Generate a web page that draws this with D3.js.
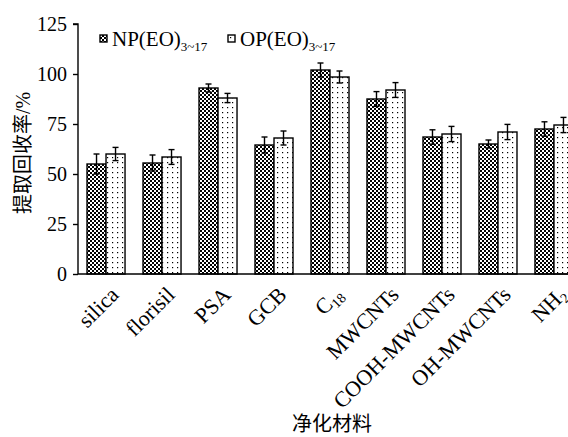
<!DOCTYPE html>
<html>
<head>
<meta charset="utf-8">
<script src="https://cdn.jsdelivr.net/npm/d3@7/dist/d3.min.js"></script>
<style>
  html, body { margin: 0; padding: 0; background: #fff; }
  svg { display: block; }
  text { font-family: "Liberation Serif", "Times New Roman", serif; fill: #000; }
  .cjk { font-family: "Noto Sans CJK SC", sans-serif; }
</style>
</head>
<body>
<svg id="chart" width="568" height="437"></svg>
<script>
// Sorbent names (main text + optional subscript)
const categories = ["silica", "florisil", "PSA", "GCB", "C18", "MWCNTs", "COOH-MWCNTs", "OH-MWCNTs", "NH2"];
const categoryMain = ["silica", "florisil", "PSA", "GCB", "C", "MWCNTs", "COOH-MWCNTs", "OH-MWCNTs", "NH"];
const categorySub = ["", "", "", "", "18", "", "", "", "2"];

// Recoveries (%) and their standard deviations
const npValues = [55, 55.5, 93, 64.5, 102, 87.5, 68.5, 65, 72.5];
const npErrors = [5, 4, 2, 4, 3.5, 3.7, 3.6, 2, 3.6];
const opValues = [60, 58.5, 88, 68, 98.5, 92, 70, 71, 74.5];
const opErrors = [3.3, 3.7, 2.3, 3.5, 3, 3.7, 3.8, 3.8, 3.8];

const seriesNames = ["NP(EO)", "OP(EO)"];
const seriesSub = "3~17";
const yTicks = [0, 25, 50, 75, 100, 125];
const yTitleCjk = "提取回收率";
const yTitleUnit = "/%";
const xTitle = "净化材料";

const svg = d3.select("#chart");
const defs = svg.append("defs");

// Checkerboard fill for NP(EO)
const chk = defs.append("pattern").attr("id", "checker")
  .attr("patternUnits", "userSpaceOnUse").attr("width", 4).attr("height", 4);
chk.append("rect").attr("width", 4).attr("height", 4).attr("fill", "#000");
chk.append("rect").attr("x", 0).attr("y", 0).attr("width", 2).attr("height", 2).attr("fill", "#fff");
chk.append("rect").attr("x", 2).attr("y", 2).attr("width", 2).attr("height", 2).attr("fill", "#fff");

// Sparse dot fill for OP(EO)
const dots = defs.append("pattern").attr("id", "dots")
  .attr("patternUnits", "userSpaceOnUse").attr("width", 5).attr("height", 5);
dots.append("rect").attr("width", 5).attr("height", 5).attr("fill", "#fff");
dots.append("rect").attr("x", 2).attr("y", 2).attr("width", 1.2).attr("height", 1.2).attr("fill", "#000");

const fills = ["url(#checker)", "url(#dots)"];

const plotLeft = 78, plotTop = 24, plotBottom = 274;

const x = d3.scaleBand().domain(categories)
  .range([plotLeft, plotLeft + 504]).paddingInner(0.321).paddingOuter(0.161);
const xs = d3.scaleBand().domain([0, 1]).range([0, x.bandwidth()]);
const y = d3.scaleLinear().domain([0, 125]).range([plotBottom, plotTop]);

// Bars
const series = [
  { vals: npValues, errs: npErrors },
  { vals: opValues, errs: opErrors }
];
series.forEach((s, si) => {
  const g = svg.append("g");
  g.selectAll("rect").data(categories).join("rect")
    .attr("x", d => x(d) + xs(si))
    .attr("y", (d, i) => y(s.vals[i]))
    .attr("width", xs.bandwidth())
    .attr("height", (d, i) => y(0) - y(s.vals[i]))
    .attr("fill", fills[si])
    .attr("stroke", "#000").attr("stroke-width", 1.4);

  // Error bars
  const eg = svg.append("g").attr("stroke", "#000").attr("stroke-width", 1.4);
  categories.forEach((c, i) => {
    const cx = x(c) + xs(si) + xs.bandwidth() / 2;
    const y1 = y(s.vals[i] + s.errs[i]), y2 = y(s.vals[i] - s.errs[i]);
    eg.append("line").attr("x1", cx).attr("x2", cx).attr("y1", y1).attr("y2", y2);
    eg.append("line").attr("x1", cx - 3).attr("x2", cx + 3).attr("y1", y1).attr("y2", y1);
    eg.append("line").attr("x1", cx - 3).attr("x2", cx + 3).attr("y1", y2).attr("y2", y2);
  });
});

// Y axis
const yAxis = svg.append("g").attr("transform", `translate(${plotLeft},0)`)
  .call(d3.axisLeft(y).tickValues(yTicks).tickSize(5).tickPadding(6));
yAxis.select(".domain").attr("stroke-width", 1.4).attr("d", `M-5,${plotTop}H0V${plotBottom}`);
yAxis.selectAll(".tick line").attr("stroke-width", 1.4);
yAxis.selectAll(".tick text").style("font-size", "20px")
  .style("font-family", "Liberation Serif, serif");

// X axis baseline
svg.append("line").attr("x1", plotLeft).attr("x2", 568).attr("y1", plotBottom).attr("y2", plotBottom)
  .attr("stroke", "#000").attr("stroke-width", 1.4);

// Rotated category labels
categories.forEach((c, i) => {
  const cx = x(c) + x.bandwidth() / 2;
  const t = svg.append("text")
    .attr("transform", `translate(${cx + 14},${plotBottom + 22}) rotate(-45)`)
    .attr("text-anchor", "end")
    .style("font-size", "22px");
  t.append("tspan").text(categoryMain[i]);
  if (categorySub[i]) {
    t.append("tspan").attr("dy", 4).style("font-size", "14px").text(categorySub[i]);
  }
});

// Axis titles
const yt = svg.append("text").attr("class", "cjk")
  .attr("transform", `translate(30,153) rotate(-90)`)
  .attr("text-anchor", "middle").style("font-size", "20px");
yt.append("tspan").text(yTitleCjk);
yt.append("tspan").style("font-family", "Liberation Serif, serif").text(yTitleUnit);

svg.append("text").attr("class", "cjk")
  .attr("x", 332).attr("y", 431).attr("text-anchor", "middle")
  .style("font-size", "20px").text(xTitle);

// Legend
const legX = [100, 228];
seriesNames.forEach((name, i) => {
  const lg = svg.append("g").attr("transform", `translate(${legX[i]},35)`);
  lg.append("rect").attr("x", 0).attr("y", 0).attr("width", 7).attr("height", 7)
    .attr("fill", fills[i]).attr("stroke", "#000").attr("stroke-width", 1.4);
  const t = lg.append("text").attr("x", 12).attr("y", 11).style("font-size", "21px");
  t.append("tspan").text(name);
  t.append("tspan").attr("dy", 5).style("font-size", "13px").text(seriesSub);
});
</script>
</body>
</html>
